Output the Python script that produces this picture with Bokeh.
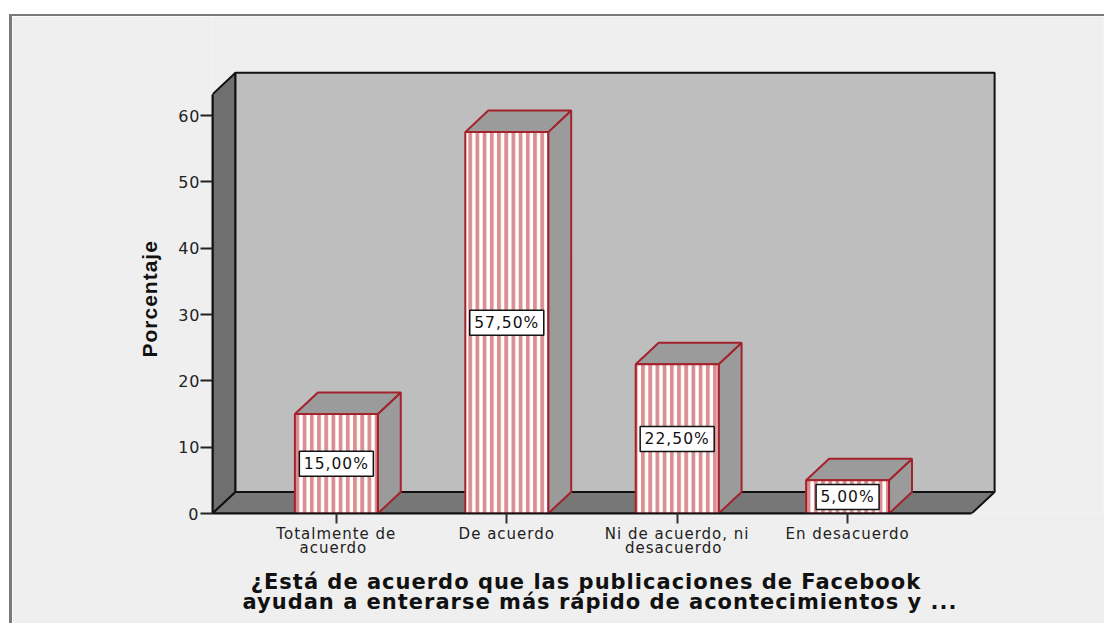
from bokeh.plotting import figure
from bokeh.models import Label, FixedTicker, LinearAxis, Range1d, Title
from bokeh.embed import file_html
from bokeh.resources import INLINE

categories = ["Totalmente de\nacuerdo", "De acuerdo", "Ni de acuerdo, ni\ndesacuerdo", "En desacuerdo"]
percentages = [15.0, 57.5, 22.5, 5.0]
percent_labels = ["15,00%", "57,50%", "22,50%", "5,00%"]
y_ticks = [0, 10, 20, 30, 40, 50, 60]
y_title = "Porcentaje"
x_title = "\u00a0¿Está de acuerdo que las publicaciones de Facebook\nayudan a enterarse más rápido de acontecimientos y ..."

positions = [i + 1 for i in range(len(categories))]
BAR_W = 0.4865
DX, DY = 0.1348, 3.25
X0, X1 = 0.2732, 4.728
Y_TOP = 63.2
BG = "#efefef"
BAR_EDGE = "#a3222c"
INK = "#222222"
SANS = "DejaVu Sans"
PX_PER_X = 170.6

p = figure(width=1092, height=607, output_backend="svg", toolbar_location=None,
           x_range=Range1d(X0, 5.5018), y_range=Range1d(0, 74.93),
           min_border_left=200, min_border_bottom=112, min_border_top=0, min_border_right=4,
           x_axis_type=None, y_axis_type=None,
           background_fill_color=BG, border_fill_color=BG, outline_line_color=None)
p.styles = {"margin-left": "9px", "margin-top": "14px",
            "border-left": "3px solid #7a7a7a", "border-top": "2px solid #7a7a7a",
            "box-sizing": "content-box", "letter-spacing": "1px"}
p.xgrid.visible = False
p.ygrid.visible = False

# walls
p.patch([X0, X0 + DX, X0 + DX, X0], [Y_TOP, Y_TOP + DY, DY, 0], fill_color="#6f6f6f", line_color="#111111", line_width=2)
p.patch([X0 + DX, X1 + DX, X1 + DX, X0 + DX], [Y_TOP + DY, Y_TOP + DY, DY, DY], fill_color="#bebebe", line_color="#111111", line_width=2)
p.patch([X0, X0 + DX, X1 + DX, X1], [0, DY, DY, 0], fill_color="#777777", line_color="#111111", line_width=2)

# bars
for x, v in zip(positions, percentages):
    l, r = x - BAR_W / 2, x + BAR_W / 2
    p.patch([r, r + DX, r + DX, r], [0, DY, v + DY, v], fill_color="#9b9b9b", line_color=BAR_EDGE, line_width=2)
    p.patch([l, l + DX, r + DX, r], [v, v + DY, v + DY, v], fill_color="#9b9b9b", line_color=BAR_EDGE, line_width=2)

p.quad(left=[x - BAR_W / 2 for x in positions], right=[x + BAR_W / 2 for x in positions],
       bottom=0, top=percentages, fill_color="white", line_color=BAR_EDGE, line_width=2,
       hatch_pattern="vertical_line", hatch_color="#dc8f92", hatch_scale=7.2, hatch_weight=3.8)

# value boxes sized in pixels, text centred on them
p.rect(x=positions, y=[v / 2 for v in percentages],
       width=[11 * len(t) + 8 for t in percent_labels], height=25, width_units="screen", height_units="screen",
       fill_color="white", line_color="#111111", line_width=1.5)
for x, v, t in zip(positions, percentages, percent_labels):
    p.add_layout(Label(x=x, y=v / 2, x_offset=-len(t) / 2, text=t, text_align="center", text_baseline="middle",
                       text_font=SANS, text_font_size="15.5px", text_color="#111111"))

# axis with the rule and tick marks
xaxis = LinearAxis(ticker=FixedTicker(ticks=positions), bounds=(X0, X1),
                   axis_line_color="#111111", axis_line_width=2, major_tick_out=10, major_tick_in=0,
                   major_tick_line_color="#333333", major_tick_line_width=2, minor_tick_line_color=None,
                   major_label_text_color=None, major_label_text_font_size="0px", major_label_standoff=0)
p.add_layout(xaxis, "below")

# axis with the category labels; spacing widens the text rightward, so its ticks sit slightly left
shifts = [max(len(s) for s in c.split("\n")) / 2 / PX_PER_X for c in categories]
label_ticks = [x - s for x, s in zip(positions, shifts)]
xlabels = LinearAxis(ticker=FixedTicker(ticks=label_ticks),
                     major_label_overrides=dict(zip(label_ticks, categories)),
                     axis_line_color=None, major_tick_line_color=None, minor_tick_line_color=None,
                     major_tick_out=0, major_tick_in=0,
                     major_label_text_font=SANS, major_label_text_font_size="15px",
                     major_label_text_line_height=0.8,
                     major_label_text_color=INK, major_label_standoff=1)
p.add_layout(xlabels, "below")

yaxis = LinearAxis(ticker=FixedTicker(ticks=y_ticks), bounds=(0, Y_TOP),
                   axis_line_color="#111111", axis_line_width=2, major_tick_out=12, major_tick_in=0,
                   major_tick_line_color="#222222", major_tick_line_width=2, minor_tick_line_color=None,
                   major_label_text_font=SANS, major_label_text_font_size="16px",
                   major_label_text_color=INK, major_label_standoff=2)
p.add_layout(yaxis, "left")

p.add_layout(Title(text=y_title, align="left", offset=156, standoff=29,
                   text_font="Liberation Sans", text_font_style="bold", text_font_size="21px", text_color="#111111"), "left")
# blank spacer between the category labels and the axis title
p.add_layout(Title(text=" ", standoff=0, text_line_height=0.8, text_font_size="5px"), "below")
p.add_layout(Title(text=x_title, align="left", offset=30, standoff=0, text_line_height=0.857,
                   text_font=SANS, text_font_style="bold", text_font_size="21px", text_color="#111111"), "below")

open("out.html", "w").write(file_html(p, INLINE))
